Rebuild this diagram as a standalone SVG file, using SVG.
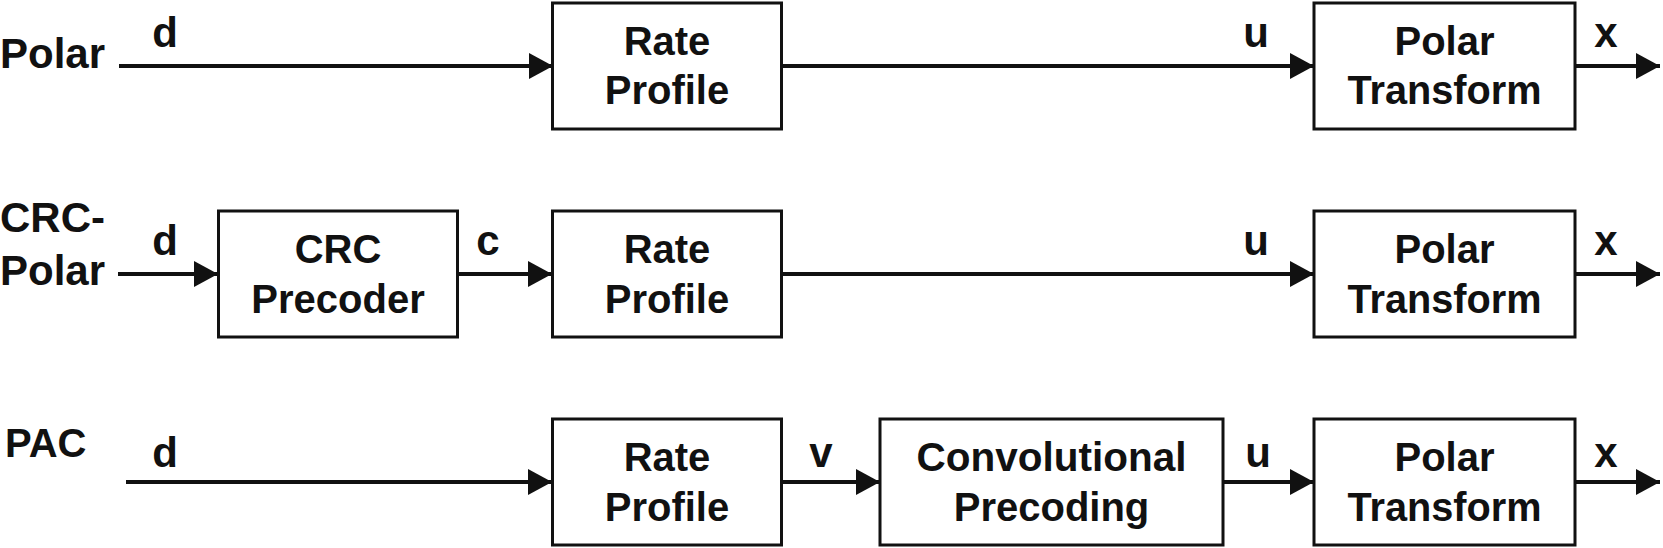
<svg xmlns="http://www.w3.org/2000/svg" width="1663" height="548" viewBox="0 0 1663 548">
  <style>
    text { font-family: "Liberation Sans", Arial, sans-serif; font-weight: bold; font-size: 40px; fill: #111; }
    .c { text-anchor: middle; }
    .lbl { font-size: 42px; }
    .box { fill: #fff; stroke: #111; stroke-width: 3; }
    .wire { fill: none; stroke: #111; stroke-width: 3.8; marker-end: url(#arrow); }
  </style>
  <defs>
    <marker id="arrow" markerUnits="userSpaceOnUse" markerWidth="25" markerHeight="27" refX="24" refY="13" orient="auto">
      <path d="M0,0 L24,13 L0,26 Z" fill="#111"/>
    </marker>
  </defs>
  <rect width="1663" height="548" fill="#fff"/>

  <!-- Row labels -->
  <g id="label-polar"><text class="lbl" x="0" y="68">Polar</text></g>
  <g id="label-crcpolar"><text class="lbl" x="0" y="232">CRC-</text><text class="lbl" x="0" y="285">Polar</text></g>
  <g id="label-pac"><text x="5" y="457">PAC</text></g>

  <!-- Connectors -->
  <g id="connectors">
    <line class="wire" x1="119" y1="66" x2="553" y2="66"/>
    <line class="wire" x1="781" y1="66" x2="1314" y2="66"/>
    <line class="wire" x1="1575" y1="66" x2="1660" y2="66"/>

    <line class="wire" x1="118" y1="274" x2="218" y2="274"/>
    <line class="wire" x1="457" y1="274" x2="552" y2="274"/>
    <line class="wire" x1="781" y1="274" x2="1314" y2="274"/>
    <line class="wire" x1="1575" y1="274" x2="1660" y2="274"/>

    <line class="wire" x1="126" y1="482" x2="552" y2="482"/>
    <line class="wire" x1="781" y1="482" x2="880" y2="482"/>
    <line class="wire" x1="1223" y1="482" x2="1314" y2="482"/>
    <line class="wire" x1="1575" y1="482" x2="1660" y2="482"/>

    <!-- edge labels -->
    <text class="c lbl" x="165" y="47">d</text>
    <text class="c lbl" x="1256" y="47">u</text>
    <text class="c lbl" x="1606" y="47">x</text>

    <text class="c lbl" x="165" y="255">d</text>
    <text class="c lbl" x="488" y="255">c</text>
    <text class="c lbl" x="1256" y="255">u</text>
    <text class="c lbl" x="1606" y="255">x</text>

    <text class="c lbl" x="165" y="467">d</text>
    <text class="c lbl" x="821" y="467">v</text>
    <text class="c lbl" x="1258" y="467">u</text>
    <text class="c lbl" x="1606" y="467">x</text>
  </g>

  <!-- Row 1 -->
  <g id="rate-profile-1">
    <rect class="box" x="552.5" y="3" width="229" height="126"/>
    <text class="c" x="667" y="55">Rate</text>
    <text class="c" x="667" y="104">Profile</text>
  </g>
  <g id="polar-transform-1">
    <rect class="box" x="1314" y="3" width="261" height="126"/>
    <text class="c" x="1444.5" y="55">Polar</text>
    <text class="c" x="1444.5" y="104" textLength="194" lengthAdjust="spacingAndGlyphs">Transform</text>
  </g>

  <!-- Row 2 -->
  <g id="crc-precoder">
    <rect class="box" x="218.5" y="211" width="239" height="126"/>
    <text class="c" x="338" y="263">CRC</text>
    <text class="c" x="338" y="313">Precoder</text>
  </g>
  <g id="rate-profile-2">
    <rect class="box" x="552.5" y="211" width="229" height="126"/>
    <text class="c" x="667" y="263">Rate</text>
    <text class="c" x="667" y="313">Profile</text>
  </g>
  <g id="polar-transform-2">
    <rect class="box" x="1314" y="211" width="261" height="126"/>
    <text class="c" x="1444.5" y="263">Polar</text>
    <text class="c" x="1444.5" y="313" textLength="194" lengthAdjust="spacingAndGlyphs">Transform</text>
  </g>

  <!-- Row 3 -->
  <g id="rate-profile-3">
    <rect class="box" x="552.5" y="419" width="229" height="126"/>
    <text class="c" x="667" y="471">Rate</text>
    <text class="c" x="667" y="521">Profile</text>
  </g>
  <g id="convolutional-precoding">
    <rect class="box" x="880" y="419" width="343" height="126"/>
    <text class="c" x="1051.5" y="471" textLength="270" lengthAdjust="spacingAndGlyphs">Convolutional</text>
    <text class="c" x="1051.5" y="521">Precoding</text>
  </g>
  <g id="polar-transform-3">
    <rect class="box" x="1314" y="419" width="261" height="126"/>
    <text class="c" x="1444.5" y="471">Polar</text>
    <text class="c" x="1444.5" y="521" textLength="194" lengthAdjust="spacingAndGlyphs">Transform</text>
  </g>
</svg>
